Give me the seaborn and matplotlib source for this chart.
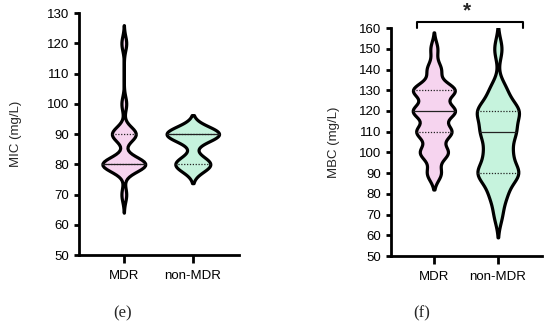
import numpy as np
import pandas as pd
import matplotlib.pyplot as plt
import seaborn as sns

sns.set_theme(style="ticks")
plt.rcParams["font.family"] = ["Liberation Sans", "DejaVu Sans"]

groups = ["MDR", "non-MDR"]

# MIC values (mg/L)
mic_mdr = [70, 80, 80, 80, 80, 80, 80, 80, 80, 80, 90, 90, 90, 90, 90, 100, 120]
mic_non = [80, 80, 80, 80, 90, 90, 90, 90, 90, 90]

# MBC values (mg/L)
mbc_mdr = [90, 90, 100, 100, 100, 100, 110, 110, 110, 110, 110,
           120, 120, 120, 120, 120, 120, 130, 130, 130, 130, 130, 130,
           140, 140, 150]
mbc_non = [70, 80, 80, 90, 90, 90, 90, 90, 100, 100, 100,
           110, 110, 110, 110, 120, 120, 120, 120, 120, 130, 130, 150]

colors = ["#F6D4EF", "#C6F3DD"]


def draw_violins(ax, data, bws, widths, cut):
    for g, vals, col, bw, w in zip(groups, data, colors, bws, widths):
        n0 = len(ax.lines)
        sns.violinplot(x=[g] * len(vals), y=vals, order=groups, color=col,
                       inner="quart", bw_method=bw / np.std(vals, ddof=1),
                       cut=cut, width=w, density_norm="width", linewidth=2.3,
                       linecolor="black", saturation=1, ax=ax,
                       inner_kws={"linewidth": 0.9})
        new = ax.lines[n0:]
        for i, ln in enumerate(new):
            if i % 3 == 1:
                ln.set_linestyle("-")
            else:
                ln.set_linestyle((0, (1, 1.3)))
            ln.set_color("#222222")


fig = plt.figure(figsize=(5.5, 3.34), dpi=100)
ax1 = fig.add_axes([0.1436, 0.2365, 0.291, 0.7245])
ax2 = fig.add_axes([0.7109, 0.2335, 0.2746, 0.6825])

draw_violins(ax1, [mic_mdr, mic_non], bws=[2.4, 2.5], widths=[0.62, 0.76], cut=2.5)
draw_violins(ax2, [mbc_mdr, mbc_non], bws=[3.6, 5.0], widths=[0.66, 0.66], cut=2.2)

ax1.set_ylim(50, 130)
ax1.set_yticks(range(50, 131, 10))
ax1.set_xlim(-0.65, 1.67)
ax1.set_ylabel("MIC (mg/L)", fontsize=9.5, labelpad=18)

ax2.set_ylim(50, 160)
ax2.set_yticks(range(50, 161, 10))
ax2.set_xlim(-0.67, 1.69)
ax2.set_ylabel("MBC (mg/L)", fontsize=9.5, labelpad=14)

for ax in (ax1, ax2):
    sns.despine(ax=ax)
    for side in ("left", "bottom"):
        ax.spines[side].set_linewidth(2.0)
        ax.spines[side].set_color("black")
    ax.tick_params(axis="both", width=2.0, length=3.5, labelsize=9.5,
                   colors="black", direction="out")
    ax.tick_params(axis="x", length=6, pad=5)
    ax.set_xlabel("")

# significance bracket on panel (f)
ax2.plot([-0.27, -0.27, 1.39, 1.39], [160, 163, 163, 160], color="black",
         linewidth=1.5, clip_on=False)
ax2.text(0.52, 163.5, "*", ha="center", va="bottom", fontsize=15,
         fontweight="bold")

fig.text(0.222, 0.062, "(e)", ha="center", va="center", fontsize=12,
         family="Liberation Serif")
fig.text(0.767, 0.062, "(f)", ha="center", va="center", fontsize=12,
         family="Liberation Serif")

plt.savefig("out.png", dpi=100)
plt.close()
